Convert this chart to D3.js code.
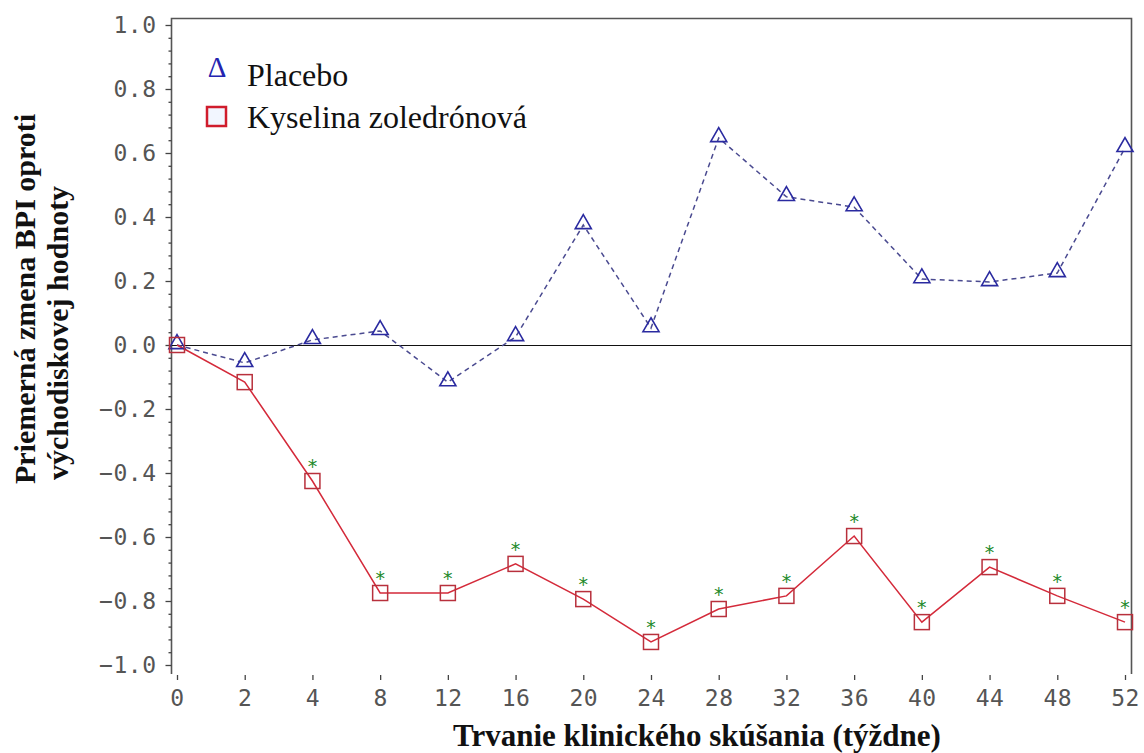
<!DOCTYPE html>
<html><head><meta charset="utf-8">
<script src="https://cdn.jsdelivr.net/npm/d3@7"></script>
<style>body{margin:0;background:#fff}svg{display:block}</style>
</head><body>
<svg id="c" width="1144" height="753"></svg>
<script>
const weeks = ["0","2","4","8","12","16","20","24","28","32","36","40","44","48","52"];
const placebo = [0.0,-0.056,0.016,0.044,-0.116,0.025,0.375,0.053,0.647,0.463,0.431,0.206,0.197,0.225,0.616];
const zoledronic = [0.0,-0.116,-0.425,-0.775,-0.775,-0.684,-0.794,-0.928,-0.825,-0.784,-0.597,-0.866,-0.694,-0.784,-0.866];
const significant = ["4","8","12","16","20","24","28","32","36","40","44","48","52"];
const yTicks = [-1.0,-0.8,-0.6,-0.4,-0.2,0.0,0.2,0.4,0.6,0.8,1.0];
const seriesNames = ["Placebo","Kyselina zoledrónová"];
const xTitle = "Trvanie klinického skúšania (týždne)";
const yTitle = ["Priemerná zmena BPI oproti","východiskovej hodnoty"];

const svg = d3.select("#c");
const L = 171.5, R = 1131.5, T = 18.5, B = 674;
const x = d3.scalePoint().domain(weeks).range([177,1125]);
const y = d3.scaleLinear().domain([-1,1]).range([665,25]);

// frame
svg.append("path").attr("d",`M${L},${B}V${T}H${R}V${B}`).attr("fill","none").attr("stroke","#555").attr("stroke-width",1.6);
// zero line
svg.append("line").attr("x1",L).attr("x2",R).attr("y1",y(0)+0.5).attr("y2",y(0)+0.5).attr("stroke","#111").attr("stroke-width",1.2);

// y axis
const minor = d3.range(-1,1.0001,0.04).map(v=>+v.toFixed(2)).filter(v=>!yTicks.some(t=>Math.abs(t-v)<1e-6));
const yAx = svg.append("g").attr("transform",`translate(${L},0)`);
yAx.call(d3.axisLeft(y).tickValues(yTicks).tickSize(6).tickPadding(9).tickFormat(d=>d3.format(".1f")(d).replace("-","\u2212")));
yAx.select(".domain").remove();
yAx.selectAll(".tick line").attr("stroke","#444").attr("stroke-width",1.3);
yAx.selectAll(".tick text").attr("font-family","DejaVu Sans Mono").attr("font-size",23).attr("fill","#555").attr("letter-spacing",0.5);
const yMin = svg.append("g").attr("transform",`translate(${L},0)`);
yMin.call(d3.axisLeft(y).tickValues(minor).tickSize(3).tickFormat(""));
yMin.select(".domain").remove();
yMin.selectAll(".tick line").attr("stroke","#444").attr("stroke-width",1.3);

// x axis
const xAx = svg.append("g").attr("transform",`translate(0,${B})`);
xAx.call(d3.axisBottom(x).tickSize(6).tickPadding(10));
xAx.select(".domain").remove();
xAx.selectAll(".tick line").attr("stroke","#444").attr("stroke-width",1.3).attr("y1",1);
xAx.selectAll(".tick text").attr("font-family","DejaVu Sans Mono").attr("font-size",23).attr("fill","#555").attr("letter-spacing",0.5);

// lines
const line = d3.line().x((d,i)=>x(weeks[i])).y(d=>y(d));
svg.append("path").datum(placebo).attr("d",line).attr("fill","none").attr("stroke","#4a4a90").attr("stroke-width",1.5).attr("stroke-dasharray","5,4");
svg.append("path").datum(zoledronic).attr("d",line).attr("fill","none").attr("stroke","#d42a3a").attr("stroke-width",1.5);

// markers
const tri = d3.symbol().type(d3.symbolTriangle).size(112);
svg.selectAll(".tri").data(placebo).join("path").attr("class","tri")
  .attr("d",tri).attr("transform",(d,i)=>`translate(${x(weeks[i])},${y(d)-1})`)
  .attr("fill","none").attr("stroke","#2a2aa0").attr("stroke-width",1.6);
svg.selectAll(".sq").data(zoledronic).join("rect").attr("class","sq")
  .attr("x",(d,i)=>x(weeks[i])-7.5).attr("y",d=>y(d)-7.5).attr("width",15).attr("height",15)
  .attr("fill","none").attr("stroke","#b8303c").attr("stroke-width",1.5);

// significance asterisks
svg.selectAll(".ast").data(significant).join("text").attr("class","ast")
  .attr("x",d=>x(d)).attr("y",d=>y(zoledronic[weeks.indexOf(d)])-8)
  .attr("text-anchor","middle").attr("font-family","DejaVu Sans").attr("font-size",19)
  .attr("fill","#1e8a2a").text("*");

// legend
svg.append("text").attr("x",217).attr("y",77).attr("text-anchor","middle").attr("font-family","Liberation Serif")
  .attr("font-size",29).attr("fill","#2424b0").text("\u0394");
svg.append("rect").attr("x",207).attr("y",107).attr("width",19).attr("height",19)
  .attr("fill","#f2f6ff").attr("stroke","#d01c2c").attr("stroke-width",2.5);
svg.append("text").attr("x",247).attr("y",86).attr("font-family","Liberation Serif").attr("font-size",32).attr("fill","#111").text(seriesNames[0]);
svg.append("text").attr("x",247).attr("y",128).attr("font-family","Liberation Serif").attr("font-size",32).attr("fill","#111").text(seriesNames[1]);

// titles
svg.append("text").attr("x",697).attr("y",746).attr("text-anchor","middle").attr("font-family","Liberation Serif")
  .attr("font-weight","bold").attr("font-size",31).attr("fill","#111").text(xTitle);
const yt = svg.append("text").attr("transform","translate(0,330) rotate(-90)").attr("text-anchor","middle")
  .attr("font-family","Liberation Serif").attr("font-weight","bold").attr("font-size",30).attr("fill","#111");
yt.append("tspan").attr("x",31).attr("y",35).text(yTitle[0]);
yt.append("tspan").attr("x",-3).attr("y",68).text(yTitle[1]);
</script>
</body></html>
